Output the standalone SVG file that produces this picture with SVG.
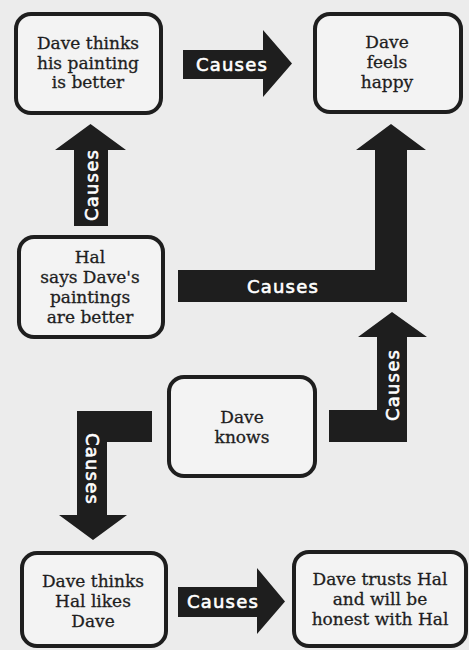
<svg xmlns="http://www.w3.org/2000/svg" width="469" height="650" viewBox="0 0 469 650">
<style>
.node rect{fill:#f3f3f3;stroke:#1e1e1e;stroke-width:4}
.node text{font-family:"DejaVu Serif","Liberation Serif",serif;font-size:17px;fill:#1e1e1e;text-anchor:middle;stroke:#1e1e1e;stroke-width:0.3}
.arrow{fill:#1e1e1e}
.lbl{font-family:"DejaVu Sans","Liberation Sans",sans-serif;font-size:18px;letter-spacing:1.2px;fill:#ffffff;stroke:#ffffff;stroke-width:0.6;text-anchor:middle}
</style>
<rect x="0" y="0" width="469" height="650" fill="#ececec"/>
<g id="connectors">
<polygon class="arrow" points="183,50 263,50 263,30 292,63.5 263,97 263,79 183,79"/>
<text class="lbl" x="232" y="71">Causes</text>
<polygon class="arrow" points="74,226 74,150 55,150 90.5,124 126,150 108,150 108,226"/>
<text class="lbl" transform="translate(98,185) rotate(-90)">Causes</text>
<polygon class="arrow" points="178,270 375,270 375,150 356,150 391,124 426,150 407,150 407,302 178,302"/>
<text class="lbl" x="283" y="293">Causes</text>
<polygon class="arrow" points="329,410 377,410 377,337 358,337 392,312 427,337 407,337 407,442 329,442"/>
<text class="lbl" transform="translate(399,385) rotate(-90)">Causes</text>
<polygon class="arrow" points="152,411 77,411 77,515 59,515 93,540 127,515 107,515 107,442 152,442"/>
<text class="lbl" transform="translate(86,469) rotate(90)">Causes</text>
<polygon class="arrow" points="178,587 257,587 257,568 285,601.5 257,634 257,617 178,617"/>
<text class="lbl" x="223" y="608">Causes</text>
</g>
<g id="n1" class="node">
<rect x="16" y="14" width="145" height="99" rx="15"/>
<text x="88" y="49">Dave thinks</text>
<text x="88" y="69">his painting</text>
<text x="88" y="88">is better</text>
</g>
<g id="n2" class="node">
<rect x="315" y="14" width="146" height="98" rx="15"/>
<text x="387" y="48">Dave</text>
<text x="387" y="68">feels</text>
<text x="387" y="88">happy</text>
</g>
<g id="n3" class="node">
<rect x="19" y="237" width="144" height="100" rx="15"/>
<text x="90" y="263">Hal</text>
<text x="90" y="283">says Dave's</text>
<text x="90" y="303">paintings</text>
<text x="90" y="323">are better</text>
</g>
<g id="n4" class="node">
<rect x="169" y="377" width="146" height="99" rx="15"/>
<text x="242" y="423">Dave</text>
<text x="242" y="443">knows</text>
</g>
<g id="n5" class="node">
<rect x="22" y="553" width="144" height="93" rx="15"/>
<text x="93" y="587">Dave thinks</text>
<text x="93" y="607">Hal likes</text>
<text x="93" y="627">Dave</text>
</g>
<g id="n6" class="node">
<rect x="294" y="552" width="172" height="94" rx="15"/>
<text x="380" y="585">Dave trusts Hal</text>
<text x="380" y="605">and will be</text>
<text x="380" y="625">honest with Hal</text>
</g>
</svg>
